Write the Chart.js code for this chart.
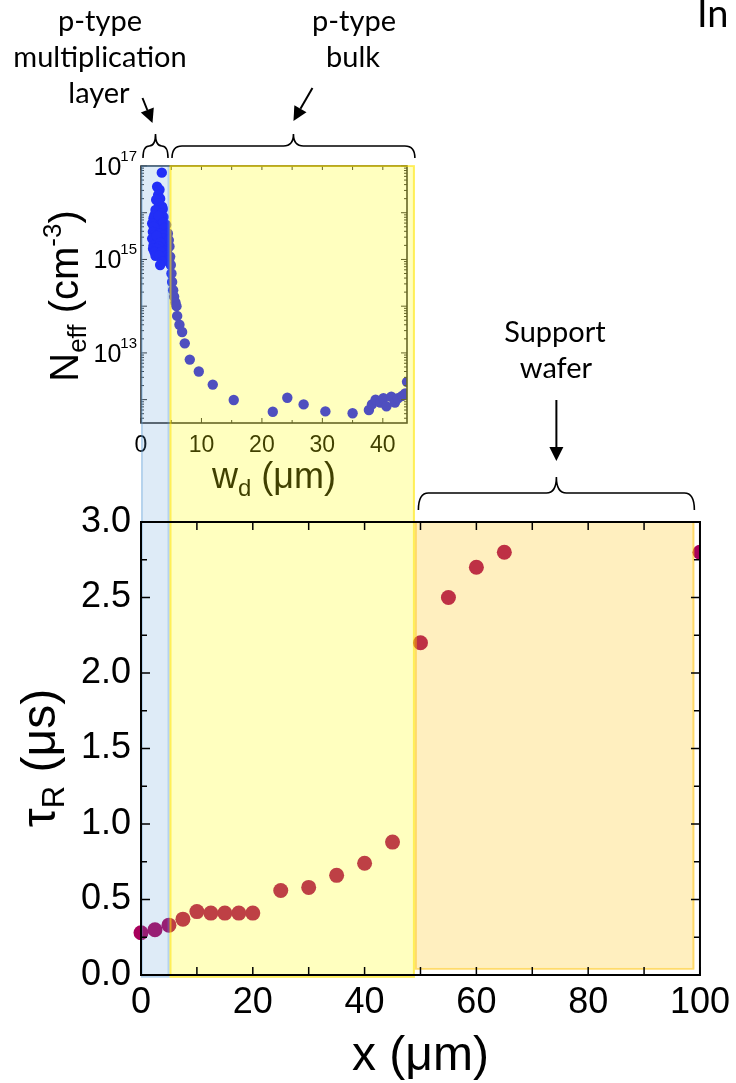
<!DOCTYPE html>
<html>
<head>
<meta charset="utf-8">
<title>Recombination lifetime vs depth</title>
<script src="https://cdn.jsdelivr.net/npm/chart.js@4.4.1/dist/chart.umd.min.js"></script>
<style>
  html, body { margin: 0; padding: 0; background: #ffffff; }
  #stage { position: relative; width: 736px; height: 1083px; overflow: hidden; background: #ffffff; }
  #stage canvas { position: absolute; left: 0; top: 0; }
</style>
</head>
<body>
<div id="stage">
  <canvas id="profile" width="736" height="1083"></canvas>
  <canvas id="lifetime" width="736" height="1083"></canvas>
</div>
<script>
// ---- recombination lifetime along depth ----
const depth = [0, 2.5, 5, 7.5, 10, 12.5, 15, 17.5, 20, 25, 30, 35, 40, 45, 50, 55, 60, 65, 100];
const tauR  = [0.28, 0.30, 0.33, 0.37, 0.42, 0.41, 0.41, 0.41, 0.41, 0.56, 0.58, 0.66, 0.74, 0.88, 2.20, 2.50, 2.70, 2.80, 2.80];

// ---- doping profile: multiplication layer ----
const wdLayer = [3.44, 2.67, 3.06, 2.84, 3.17, 2.51, 2.95, 3.50, 3.61, 2.40, 3.33, 2.23, 3.72, 2.07, 2.78, 2.90,
                 1.85, 3.33, 4.16, 3.70, 2.40, 3.89, 2.10, 1.96, 3.06, 4.44, 2.20, 3.80, 1.85, 3.61, 2.78, 4.60,
                 2.60, 2.07, 3.89, 3.20, 2.95, 4.71, 2.00, 2.60, 4.33, 4.00, 2.23, 3.33, 2.40, 4.16, 3.00,
                 4.82, 4.66, 3.50, 3.17, 4.93, 5.04, 5.15, 5.32, 5.48, 5.70, 5.87];
const neffLayer = [7.2e16, 3.6e16, 3.1e16, 2.4e16, 2.0e16, 1.9e16, 1.6e16, 1.35e16, 1.2e16, 1.15e16, 9.8e15, 8.9e15, 8.1e15, 7.6e15, 6.9e15, 8.5e15,
                   5.9e15, 5.5e15, 5.5e15, 6.2e15, 4.7e15, 4.7e15, 5.0e15, 3.9e15, 3.6e15, 3.6e15, 3.3e15, 3.3e15, 2.8e15, 2.8e15, 2.6e15, 2.6e15,
                   3.2e15, 2.0e15, 2.0e15, 2.3e15, 1.9e15, 1.9e15, 1.7e15, 1.7e15, 1.6e15, 1.5e15, 1.45e15, 1.45e15, 1.2e15, 1.2e15, 1.2e15,
                   1.15e15, 9.8e14, 8.9e14, 7.6e14, 7.6e14, 5.0e14, 3.3e14, 2.2e14, 1.6e14, 1.2e14, 1.0e14];

// ---- doping profile: bulk ----
const wdBulk   = [5.98, 6.36, 6.80, 7.24, 8.07, 9.56, 11.87, 15.34, 21.8, 24.2, 26.9, 30.5, 35.0,
                  37.7, 38.2, 38.8, 39.6, 40.1, 40.6, 41.4, 42.0, 42.5, 43.2, 43.7, 44.0];
const neffBulk = [6.2e13, 4.0e13, 2.8e13, 1.6e13, 7.2e12, 4.0e12, 2.1e12, 9.8e11, 5.5e11, 1.1e12, 7.9e11, 5.6e11, 5.1e11,
                  6.0e11, 7.9e11, 1.0e12, 8.7e11, 1.07e12, 7.2e11, 1.15e12, 8.7e11, 1.07e12, 1.2e12, 1.35e12, 2.4e12];

// ---- device regions along depth (µm) ----
const regionFrom = [0, 5.1, 49];
const regionTo   = [5.1, 49, 99];

// ---- ticks ----
const xTicks       = [0, 10, 20, 30, 40, 50, 60, 70, 80, 90, 100];
const xTickLabels  = [0, 20, 40, 60, 80, 100];
const yTicks       = [0, 0.25, 0.5, 0.75, 1, 1.25, 1.5, 1.75, 2, 2.25, 2.5, 2.75, 3];
const yTickLabels  = [0, 0.5, 1, 1.5, 2, 2.5, 3];
const wdTicks      = [0, 5, 10, 15, 20, 25, 30, 35, 40];
const wdTickLabels = [0, 10, 20, 30, 40];
const neffDecades  = [11, 12, 13, 14, 15, 16, 17];
const neffLabelExp = [13, 15, 17];

const AXIS_FONT = "'Liberation Sans', Arial, sans-serif";
const NOTE_FONT = "Lato, 'Open Sans', sans-serif";

// region overlays (translucent, drawn over the data)
const regionFill   = ['rgba(91,155,213,0.20)', 'rgba(255,255,0,0.25)', 'rgba(255,192,0,0.25)'];
const regionStroke = ['rgba(91,155,213,0.30)', 'rgba(255,225,0,0.55)', 'rgba(255,192,0,0.45)'];

function richText(ctx, parts, x, y, rotate) {
  ctx.save();
  ctx.translate(x, y);
  if (rotate) ctx.rotate(-Math.PI / 2);
  ctx.textAlign = 'left';
  ctx.textBaseline = 'alphabetic';
  const widths = parts.map(p => { ctx.font = p.size + 'px ' + (p.family || AXIS_FONT); return ctx.measureText(p.text).width; });
  let cx = -widths.reduce((a, b) => a + b, 0) / 2;
  parts.forEach((p, i) => {
    ctx.font = p.size + 'px ' + (p.family || AXIS_FONT);
    ctx.fillStyle = p.color || '#000';
    ctx.fillText(p.text, cx, p.dy || 0);
    cx += widths[i];
  });
  ctx.restore();
}

function frameAndTicks(chart, o) {
  const { ctx, chartArea: a, scales: { x, y } } = chart;
  ctx.save();
  ctx.strokeStyle = o.color;
  ctx.lineWidth = o.tickWidth;
  ctx.beginPath();
  x.ticks.forEach(t => {
    const px = x.getPixelForValue(t.value);
    const lb = o.xBottomLen(t.value), lt = o.xTopLen(t.value);
    if (lb) { ctx.moveTo(px, a.bottom); ctx.lineTo(px, a.bottom - lb); }
    if (lt) { ctx.moveTo(px, a.top); ctx.lineTo(px, a.top + lt); }
  });
  y.ticks.forEach(t => {
    const py = y.getPixelForValue(t.value);
    const l = o.yLen(t);
    if (!l) return;
    ctx.moveTo(a.left, py); ctx.lineTo(a.left + l, py);
    ctx.moveTo(a.right, py); ctx.lineTo(a.right - l, py);
  });
  ctx.stroke();
  ctx.lineWidth = o.frameWidth;
  ctx.strokeRect(a.left, a.top, a.right - a.left, a.bottom - a.top);
  ctx.restore();
}

function brace(ctx, x0, x1, yEnd, yMid, yTop) {
  const xm = (x0 + x1) / 2;
  const r = Math.min(10, (x1 - x0) / 4);
  ctx.beginPath();
  ctx.moveTo(x0, yEnd);
  ctx.quadraticCurveTo(x0, yMid, x0 + r, yMid);
  ctx.lineTo(xm - r, yMid);
  ctx.quadraticCurveTo(xm, yMid, xm, yTop);
  ctx.quadraticCurveTo(xm, yMid, xm + r, yMid);
  ctx.lineTo(x1 - r, yMid);
  ctx.quadraticCurveTo(x1, yMid, x1, yEnd);
  ctx.stroke();
}

function arrow(ctx, x0, y0, x1, y1) {
  const ang = Math.atan2(y1 - y0, x1 - x0);
  const len = 14, hw = 7;
  const bx = x1 - len * Math.cos(ang), by = y1 - len * Math.sin(ang);
  ctx.beginPath();
  ctx.moveTo(x0, y0);
  ctx.lineTo(bx, by);
  ctx.stroke();
  ctx.beginPath();
  ctx.moveTo(x1, y1);
  ctx.lineTo(bx + hw * Math.sin(ang), by - hw * Math.cos(ang));
  ctx.lineTo(bx - hw * Math.sin(ang), by + hw * Math.cos(ang));
  ctx.closePath();
  ctx.fill();
}

// ---------- inset: effective doping vs depletion width ----------
const profileChart = new Chart(document.getElementById('profile'), {
  type: 'scatter',
  data: {
    datasets: [
      { data: wdLayer.map((v, i) => ({ x: v, y: neffLayer[i] })), backgroundColor: '#1414ff', pointRadius: 5.2, borderWidth: 0, clip: 0 },
      { data: wdBulk.map((v, i) => ({ x: v, y: neffBulk[i] })),   backgroundColor: '#1414ff', pointRadius: 5.2, borderWidth: 0, clip: 0 }
    ]
  },
  options: {
    responsive: false, maintainAspectRatio: false, animation: false, devicePixelRatio: 1, events: [],
    layout: { padding: { top: 166, right: 329, bottom: 0, left: 0 } },
    plugins: { legend: { display: false }, tooltip: { enabled: false } },
    scales: {
      x: {
        type: 'linear', min: 0, max: 44,
        grid: { display: false, drawTicks: false }, border: { display: false },
        afterBuildTicks: s => { s.ticks = wdTicks.map(v => ({ value: v })); },
        afterFit: s => { s.height = 660; },
        ticks: {
          autoSkip: false, maxRotation: 0, padding: 9, color: '#000',
          font: { family: AXIS_FONT, size: 23 },
          callback: v => wdTickLabels.includes(v) ? String(v) : ''
        }
      },
      y: {
        type: 'logarithmic', min: Math.pow(10, 11.5), max: 1e17,
        grid: { display: false, drawTicks: false }, border: { display: false },
        afterBuildTicks: s => {
          const t = [];
          neffDecades.forEach(e => {
            for (let m = 1; m <= 9; m++) {
              const v = m * Math.pow(10, e);
              if (v >= s.min * 0.999 && v <= s.max * 1.001) t.push({ value: v, major: m === 1 });
            }
          });
          s.ticks = t;
        },
        afterFit: s => { s.width = 141; },
        ticks: { display: false }
      }
    }
  },
  plugins: [{
    id: 'profileFrame',
    afterDraw(chart) {
      const { ctx, scales: { x, y }, chartArea: a } = chart;
      frameAndTicks(chart, {
        color: '#333', tickWidth: 1, frameWidth: 1.6,
        xBottomLen: v => (v % 10 === 0 ? 5 : 3),
        xTopLen: v => 4,
        yLen: t => (t.major ? 6 : 3)
      });
      // decade labels 10^n
      ctx.save();
      ctx.fillStyle = '#000';
      ctx.textBaseline = 'alphabetic';
      neffLabelExp.forEach(e => {
        const py = y.getPixelForValue(Math.pow(10, e));
        ctx.font = '15px ' + AXIS_FONT;
        const sup = String(e);
        const ws = ctx.measureText(sup).width;
        const right = a.left - 4;
        ctx.textAlign = 'right';
        ctx.fillText(sup, right, py - 5);
        ctx.font = '25px ' + AXIS_FONT;
        ctx.fillText('10', right - ws + 1, py + 9);
      });
      ctx.restore();
      // axis titles
      richText(ctx, [
        { text: 'N', size: 40 }, { text: 'eff', size: 26, dy: 8 },
        { text: ' (cm', size: 40 }, { text: '-3', size: 26, dy: -17 }, { text: ')', size: 40 }
      ], 78, 296, true);
      richText(ctx, [
        { text: 'w', size: 36 }, { text: 'd', size: 24, dy: 8 }, { text: ' (μm)', size: 36 }
      ], (a.left + a.right) / 2, 488, false);
    }
  }]
});

// ---------- main: recombination lifetime vs depth ----------
new Chart(document.getElementById('lifetime'), {
  type: 'scatter',
  data: {
    datasets: [{
      data: depth.map((v, i) => ({ x: v, y: tauR[i] })),
      backgroundColor: '#a8005c', pointRadius: 7.5, borderWidth: 0,
      clip: { left: 8, top: 8, right: 0, bottom: 8 }
    }]
  },
  options: {
    responsive: false, maintainAspectRatio: false, animation: false, devicePixelRatio: 1, events: [],
    layout: { padding: { top: 522, right: 36, bottom: 0, left: 0 } },
    plugins: { legend: { display: false }, tooltip: { enabled: false } },
    scales: {
      x: {
        type: 'linear', min: 0, max: 100,
        grid: { display: false, drawTicks: false }, border: { display: false },
        afterBuildTicks: s => { s.ticks = xTicks.map(v => ({ value: v })); },
        afterFit: s => { s.height = 108; },
        ticks: {
          autoSkip: false, maxRotation: 0, padding: 6, color: '#000',
          font: { family: AXIS_FONT, size: 36 },
          callback: v => xTickLabels.includes(v) ? String(v) : ''
        }
      },
      y: {
        type: 'linear', min: 0, max: 3,
        grid: { display: false, drawTicks: false }, border: { display: false },
        afterBuildTicks: s => { s.ticks = yTicks.map(v => ({ value: v })); },
        afterFit: s => { s.width = 141; },
        ticks: {
          autoSkip: false, padding: 10, color: '#000',
          font: { family: AXIS_FONT, size: 36 },
          callback: v => yTickLabels.includes(v) ? v.toFixed(1) : ''
        }
      }
    }
  },
  plugins: [{
    id: 'regionsAndNotes',
    afterDatasetsDraw(chart) {
      const { ctx, scales: { x, y } } = chart;
      const insetTop = profileChart.chartArea.top;
      ctx.save();
      ctx.lineWidth = 2;
      regionFrom.forEach((from, i) => {
        const x0 = x.getPixelForValue(from), x1 = x.getPixelForValue(regionTo[i]);
        let y0, y1;
        if (i < 2) { y0 = insetTop; y1 = y.getPixelForValue(0) + 2; }
        else { y0 = y.getPixelForValue(3); y1 = y.getPixelForValue(0.04); }
        ctx.fillStyle = regionFill[i];
        ctx.fillRect(x0, y0, x1 - x0, y1 - y0);
        ctx.strokeStyle = regionStroke[i];
        ctx.strokeRect(x0 + 1, y0, x1 - x0 - 2, y1 - y0);
      });
      ctx.restore();
    },
    afterDraw(chart) {
      const { ctx, scales: { x, y }, chartArea: a } = chart;
      frameAndTicks(chart, {
        color: '#000', tickWidth: 1.5, frameWidth: 2,
        xBottomLen: v => 8,
        xTopLen: v => 8,
        yLen: t => (yTickLabels.includes(t.value) ? 9 : 6)
      });
      // axis titles
      richText(ctx, [
        { text: 'τ', size: 48 }, { text: 'R', size: 31, dy: 9 }, { text: ' (μs)', size: 48 }
      ], 55, 758, true);
      richText(ctx, [{ text: 'x (μm)', size: 48 }], (a.left + a.right) / 2, 1070, false);

      // region braces
      ctx.save();
      ctx.strokeStyle = '#000';
      ctx.fillStyle = '#000';
      ctx.lineWidth = 1.6;
      const p = i => [x.getPixelForValue(regionFrom[i]), x.getPixelForValue(regionTo[i])];
      const [m0, m1] = p(0), [b0, b1] = p(1), [s0, s1] = p(2);
      brace(ctx, m0 + 2, m1 - 1.5, 158, 146, 134);
      brace(ctx, b0 + 2.5, b1, 158, 146, 134);
      brace(ctx, s0 + 3.5, s1, 510, 493, 477);
      ctx.lineWidth = 2;
      const mc = (m0 + 2 + m1 - 1.5) / 2, bc = (b0 + 2.5 + b1) / 2, sc = (s0 + 3.5 + s1) / 2;
      arrow(ctx, mc - 13, 98, mc - 3, 123);
      arrow(ctx, bc + 19, 88, bc, 121);
      arrow(ctx, sc, 400, sc, 461);
      ctx.restore();

      // region notes
      ctx.save();
      ctx.fillStyle = '#000';
      ctx.textAlign = 'center';
      ctx.textBaseline = 'alphabetic';
      ctx.font = '29px ' + NOTE_FONT;
      ctx.fillText('p-type', 100, 31);
      ctx.fillText('multiplication', 100, 67);
      ctx.fillText('layer', 99, 103);
      ctx.fillText('p-type', 354, 31);
      ctx.fillText('bulk', 353, 67);
      ctx.fillText('Support', 555, 342);
      ctx.fillText('wafer', 556, 378);
      ctx.textAlign = 'left';
      ctx.font = '38px ' + NOTE_FONT;
      ctx.fillText('In', 697, 27);
      ctx.restore();
    }
  }]
});
</script>
</body>
</html>
